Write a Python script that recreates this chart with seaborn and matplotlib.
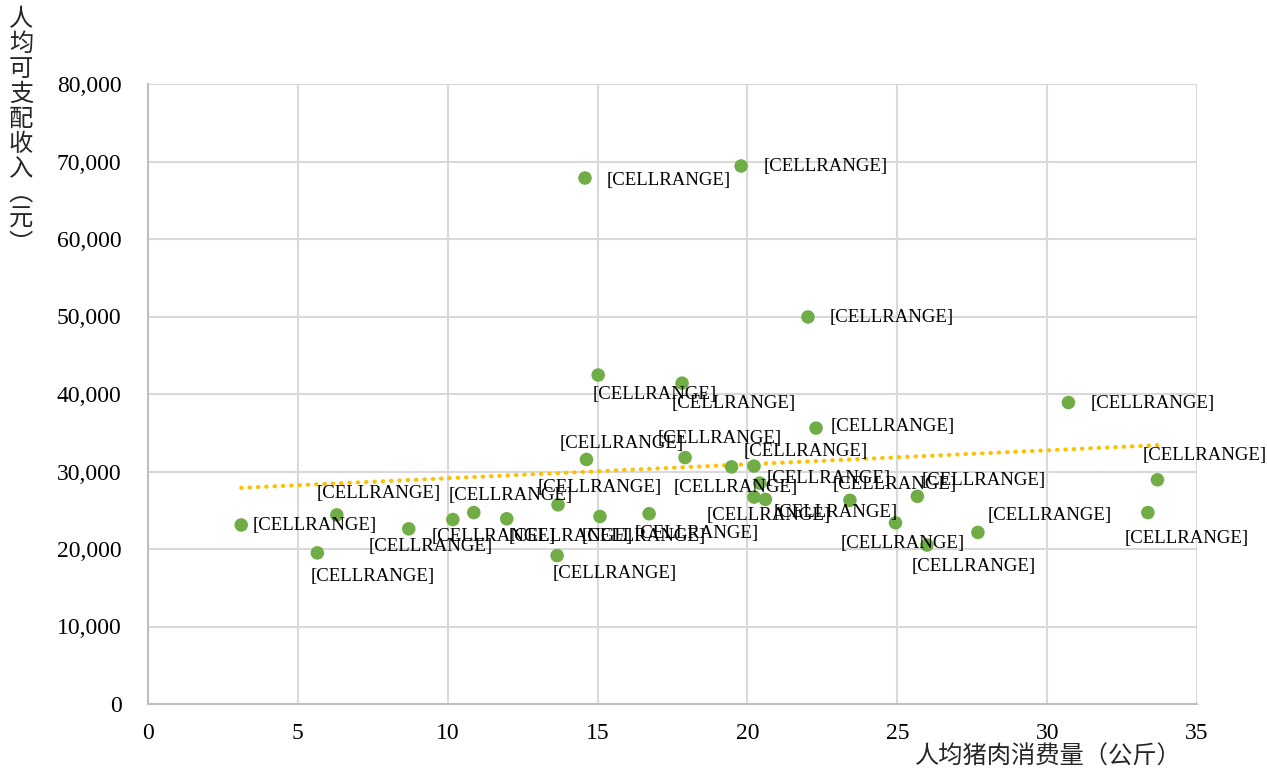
import matplotlib
matplotlib.use('Agg')
import matplotlib.pyplot as plt
from matplotlib.ticker import FuncFormatter
import seaborn as sns
import numpy as np
import pandas as pd

# data
pork_kg = [3.11, 5.65, 6.30, 8.70, 10.17, 10.87, 11.97, 13.68, 13.65, 14.58,
           14.63, 15.02, 15.08, 16.72, 17.82, 17.92, 19.47, 19.79, 20.22, 20.22,
           20.41, 20.60, 22.29, 22.02, 23.42, 24.94, 25.67, 25.99, 27.69, 30.71,
           33.68, 33.36]
income = [23100, 19500, 24400, 22600, 23800, 24700, 23900, 25700, 19150, 67870,
          31550, 42450, 24200, 24550, 41400, 31800, 30600, 69420, 30700, 26700,
          28500, 26400, 35600, 49940, 26280, 23380, 26800, 20510, 22140, 38900,
          28930, 24700]
labels = ['[CELLRANGE]'] * len(pork_kg)

# label offsets in pixels (dx, dy)
offsets = [(73, -1), (55, -24), (42, 21), (22, -18), (41, -17), (37, 17), (64, -18),
           (42, 17), (58, -18), (84, -2), (35, 16), (57, -19), (44, -20), (48, -20),
           (52, -20), (35, 19), (4, -21), (85, -1), (52, 15), (15, -18), (69, 5),
           (70, -13), (77, 2), (84, -1), (45, 16), (7, -21), (66, 16), (47, -21),
           (72, 17), (84, -1), (47, 24), (39, -26)]

df = pd.DataFrame({'pork': pork_kg, 'income': income})

sns.set_style('whitegrid')
plt.rcParams['font.family'] = ['Liberation Serif', 'Noto Sans CJK SC']

fig = plt.figure(figsize=(12.67, 7.69), dpi=100)
ax = fig.add_axes([148/1267, 1-704/769, (1197-148)/1267, (704-84)/769])

sns.regplot(data=df, x='pork', y='income', ax=ax, scatter=False, ci=None,
            line_kws=dict(color='#ffc000', linewidth=3, linestyle=(0, (0.1, 1.9)),
                          dash_capstyle='round'))
sns.scatterplot(data=df, x='pork', y='income', ax=ax, color='#70ad47', s=95,
                edgecolor='none', zorder=3)

for x, y, t, (dx, dy) in zip(pork_kg, income, labels, offsets):
    ax.annotate(t, (x, y), xytext=(dx, dy), textcoords='offset pixels',
                ha='center', va='center', fontsize=13.5, color='black',
                annotation_clip=False)

ax.set_xlim(0, 35)
ax.set_ylim(0, 80000)
ax.set_xticks(range(0, 36, 5))
ax.set_yticks(range(0, 80001, 10000))
ax.yaxis.set_major_formatter(FuncFormatter(lambda v, p: f'{int(v):,}'))
ax.tick_params(axis='both', length=0, labelsize=17, colors='black')
ax.tick_params(axis='y', pad=19)
ax.tick_params(axis='x', pad=14)
ax.grid(True, color='#d9d9d9', linewidth=1.5)
ax.set_xlabel('')
ax.set_ylabel('')
for side in ['top', 'right']:
    ax.spines[side].set_visible(False)
for side in ['left', 'bottom']:
    ax.spines[side].set_color('#bfbfbf')
    ax.spines[side].set_linewidth(1.5)

fig.text(1048/1267, 1-757/769, '人均猪肉消费量（公斤）', ha='center', va='center',
         fontsize=17.5, family=['Noto Sans CJK SC'])
ylab = '\n'.join(list('人均可支配收入')) + '\n︵\n元\n︶'
fig.text(21/1267, 1-6/769, ylab, ha='center', va='top', fontsize=17.5,
         linespacing=0.95, family=['Noto Sans CJK SC'])

fig.savefig('out.png', dpi=100)
